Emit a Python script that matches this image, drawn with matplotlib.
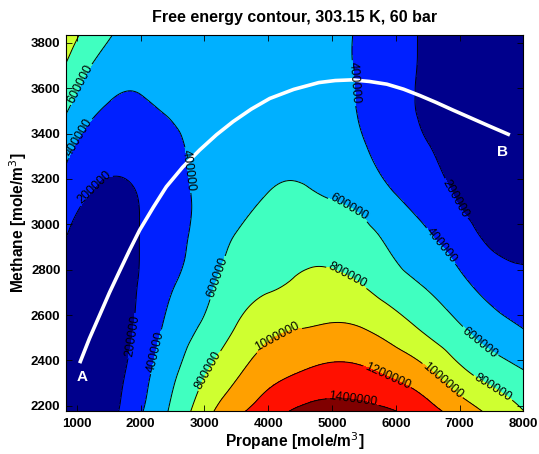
import numpy as np
import matplotlib
matplotlib.use("Agg")
import matplotlib.pyplot as plt
import matplotlib.tri as mtri

# ---------------- data ----------------
propane = [800, 1000, 1500, 2000, 2500, 3000, 3500, 4000, 4500, 5000,
           5500, 6000, 6500, 7000, 7500, 8000]
methane = [2150, 2350, 2550, 2750, 2950, 3150, 3350, 3550, 3750, 3900]

# free energy (x1000) along each methane row, one value per propane column
g_2150 = [110, 95, 145, 395, 650, 945, 1183, 1330, 1480, 1500, 1490, 1445, 1300, 1160, 993, 830]
g_2350 = [100, 80, 110, 314, 558, 779, 967, 1121, 1200, 1252, 1231, 1148, 1027, 845, 712, 610]
g_2550 = [110, 85, 90, 246, 466, 630, 804, 937, 990, 1017, 989, 885, 747, 613, 484, 390]
g_2750 = [145, 105, 90, 214, 380, 530, 700, 760, 823, 839, 779, 665, 566, 438, 308, 240]
g_2950 = [215, 155, 110, 205, 337, 470, 608, 675, 716, 705, 648, 535, 415, 288, 164, 150]
g_3150 = [330, 260, 170, 215, 337, 440, 528, 597, 613, 577, 515, 388, 309, 161, 120, 100]
g_3350 = [490, 386, 285, 295, 365, 450, 492, 540, 553, 512, 408, 307, 205, 130, 90, 70]
g_3550 = [675, 573, 407, 390, 438, 462, 480, 497, 515, 475, 370, 269, 160, 110, 75, 55]
g_3750 = [855, 743, 553, 468, 480, 475, 482, 485, 493, 450, 367, 268, 170, 100, 70, 50]
g_3900 = [1000, 872, 670, 520, 492, 480, 485, 485, 485, 450, 375, 271, 170, 100, 70, 50]

levels = [200000, 400000, 600000, 800000, 1000000, 1200000, 1400000]

path_propane = [1047, 1200, 1360, 1515, 1674, 1830, 1987, 2200, 2405, 2660,
                2928, 3190, 3450, 3735, 4025, 4400, 4793, 5050, 5310, 5585,
                5859, 6120, 6376, 6635, 6893, 7160, 7426, 7787]
path_methane = [2388, 2497, 2600, 2700, 2795, 2887, 2975, 3075, 3166, 3252,
                3328, 3395, 3453, 3508, 3555, 3595, 3625, 3634, 3637, 3630,
                3618, 3596, 3568, 3537, 3504, 3471, 3438, 3394]

point_labels = ["A", "B"]
point_propane = [1078, 7677]
point_methane = [2327, 3319]

title = "Free energy contour, 303.15 K, 60 bar"
xlabel = "Propane [mole/m$^3$]"
ylabel = "Methane [mole/m$^3$]"
xticks = [1000, 2000, 3000, 4000, 5000, 6000, 7000, 8000]
yticks = [2200, 2400, 2600, 2800, 3000, 3200, 3400, 3600, 3800]

# where the reference puts its contour labels (layout only)
label_spots = [(1047, 3620), (1040, 3380), (1282, 3160), (1893, 2508),
               (2327, 2433), (2771, 3240), (3226, 2763), (3058, 2357),
               (4150, 2500), (5357, 3623), (6956, 3116), (5247, 3063),
               (6690, 2900), (7317, 2481), (7520, 2278), (5232, 2768),
               (6740, 2313), (5859, 2327), (5326, 2221)]

# ---------------- build field ----------------
G = np.array([g_2150, g_2350, g_2550, g_2750, g_2950, g_3150, g_3350,
              g_3550, g_3750, g_3900], dtype=float) * 1000.0
X, Y = np.meshgrid(np.array(propane, float), np.array(methane, float))
sx, sy = 1000.0, 200.0
tri = mtri.Triangulation(X.ravel() / sx, Y.ravel() / sy)
refiner = mtri.UniformTriRefiner(tri)
interp = mtri.CubicTriInterpolator(tri, G.ravel(), kind="min_E")
tri_f, G_f = refiner.refine_field(G.ravel(), triinterpolator=interp, subdiv=4)
tri_plot = mtri.Triangulation(tri_f.x * sx, tri_f.y * sy, tri_f.triangles)

band_colors = ["#00008c", "#0020ff", "#00b0ff", "#40ffc0",
               "#cfff30", "#ffa000", "#ff1000", "#800000"]

plt.rcParams["font.family"] = ["Liberation Sans", "DejaVu Sans"]

fig = plt.figure(figsize=(5.39, 4.54), dpi=100)
ax = fig.add_axes([0.1224, 0.0947, 0.8488, 0.8293])

all_levels = [-1e9] + levels + [1e9]
ax.tricontourf(tri_plot, G_f, levels=all_levels, colors=band_colors)
cs = ax.tricontour(tri_plot, G_f, levels=levels, colors="k", linewidths=0.7)
ax.set_xlim(832, 8000)
ax.set_ylim(2177, 3837)
ax.clabel(cs, fmt="%d", fontsize=9, inline=True, inline_spacing=2,
          manual=label_spots)

ax.plot(path_propane, path_methane, color="white", lw=2.6,
        solid_capstyle="butt", solid_joinstyle="round")
for lab, px, py in zip(point_labels, point_propane, point_methane):
    ax.text(px, py, lab, color="white", fontsize=11, fontweight="bold",
            ha="center", va="center")

ax.set_xticks(xticks)
ax.set_yticks(yticks)
ax.tick_params(axis="x", direction="in", top=True, length=4, width=0.6,
               labelsize=9.5, pad=5)
ax.tick_params(axis="y", direction="in", right=True, length=4, width=0.6,
               labelsize=9.5, pad=4)
for lbl in ax.get_xticklabels() + ax.get_yticklabels():
    lbl.set_fontweight("bold")
for sp in ax.spines.values():
    sp.set_linewidth(0.8)
ax.set_title(title, fontsize=11.5, fontweight="bold", pad=9)
ax.set_xlabel(xlabel, fontsize=11.2, fontweight="bold", labelpad=0)
ax.set_ylabel(ylabel, fontsize=11.2, fontweight="bold", labelpad=1)

fig.savefig("out.png", dpi=100)
